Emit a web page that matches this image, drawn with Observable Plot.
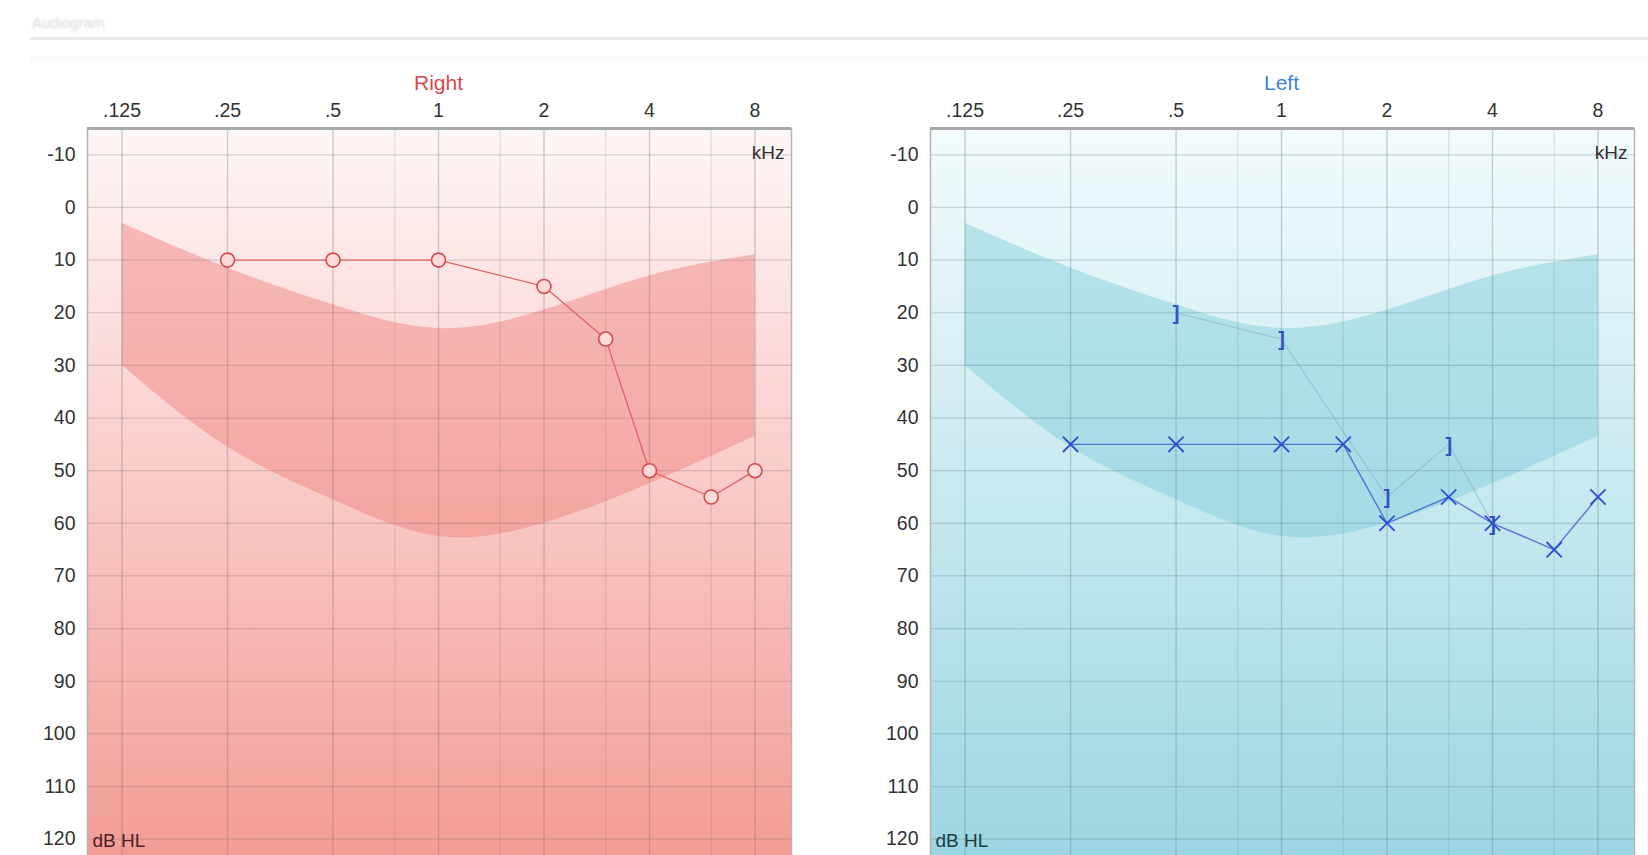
<!DOCTYPE html>
<html>
<head>
<meta charset="utf-8">
<script src="https://cdn.jsdelivr.net/npm/d3@7"></script>
<script src="https://cdn.jsdelivr.net/npm/@observablehq/plot@0.6"></script>
<style>
  html, body { margin: 0; padding: 0; background: #fff; overflow: hidden; width: 1648px; height: 855px; }
  .panel { position: absolute; top: 0; width: 830px; height: 870px; }
  .panel svg { max-width: none !important; }
  #hdr-text { position: absolute; left: 32px; top: 14px; font: 15px "Liberation Sans", Arial, sans-serif; color: #d8d8d8; filter: blur(1.2px); }
  #hdr-line { position: absolute; left: 30px; right: 0; top: 37px; height: 3px; background: #ececec; }
  #hdr-band { position: absolute; left: 30px; right: 0; top: 56px; height: 6px; background: #fbfbfb; }
</style>
</head>
<body>
<div id="hdr-text">Audiogram</div>
<div id="hdr-line"></div>
<div id="hdr-band"></div>
<div id="right" class="panel" style="left:0px"></div>
<div id="left" class="panel" style="left:843px"></div>
<script>
// ---- data ----
const freqTicks = [0.125, 0.25, 0.5, 1, 2, 4, 8];
const freqTickLabels = [".125", ".25", ".5", "1", "2", "4", "8"];
const minorFreqs = [0.75, 1.5, 3, 6];
const dbTicks = [-10, 0, 10, 20, 30, 40, 50, 60, 70, 80, 90, 100, 110, 120];

// normal-range band
const bandFreq  = [0.125, 0.25, 0.5, 1, 2, 4, 8];
const bandUpper = [3, 11.5, 18.5, 23, 19.5, 13, 9];
const bandLower = [30, 45.5, 55.5, 62.5, 60, 52.5, 43.5];

// right ear air conduction (circles)
const rightFreq = [0.25, 0.5, 1, 2, 3, 4, 6, 8];
const rightDb   = [10, 10, 10, 15, 25, 50, 55, 50];

// left ear air conduction (X)
const leftFreq = [0.25, 0.5, 1, 1.5, 2, 3, 4, 6, 8];
const leftDb   = [45, 45, 45, 45, 60, 55, 60, 65, 55];

// left ear masked bone conduction (])
const boneFreq = [0.5, 1, 2, 3, 4];
const boneDb   = [20, 25, 55, 45, 60];

const band = bandFreq.map((f, i) => ({f, lo: bandUpper[i], hi: bandLower[i]}));
const rightPts = rightFreq.map((f, i) => ({f, db: rightDb[i]}));
const leftPts = leftFreq.map((f, i) => ({f, db: leftDb[i]}));
const bonePts = boneFreq.map((f, i) => ({f, db: boneDb[i]}));
const xTickData = freqTicks.map((f, i) => ({f, t: freqTickLabels[i]}));

const FONT = '"Liberation Sans", Arial, sans-serif';

function panel(opts) {
  const {title, titleColor, gradId, gradTop, gradBottom, bandColor, bandOpacity, gridColor, labelColor, marks} = opts;
  const svg = Plot.plot({
    width: 830,
    height: 870,
    marginLeft: 87,
    marginRight: 39,
    marginTop: 128,
    marginBottom: 5,
    style: {fontFamily: FONT, fontSize: "19px", color: "#333", background: "transparent", overflow: "visible"},
    x: {type: "log", domain: [0.0996, 10.17], axis: null},
    y: {domain: [-15, 125], reverse: true, axis: null},
    marks: [
      Plot.frame({fill: `url(#${gradId})`, stroke: "none"}),
      Plot.areaY(band, {x: "f", y1: "lo", y2: "hi", fill: bandColor, fillOpacity: bandOpacity, curve: "natural"}),
      Plot.ruleY(dbTicks, {stroke: gridColor, strokeOpacity: 0.28, strokeWidth: 1.2}),
      Plot.ruleX(minorFreqs, {stroke: gridColor, strokeOpacity: 0.2, strokeWidth: 1.2}),
      Plot.ruleX(freqTicks, {stroke: gridColor, strokeOpacity: 0.32, strokeWidth: 1.4}),
      Plot.frame({stroke: "#b5b5b5", strokeWidth: 1.5}),
      Plot.ruleY([-15], {stroke: "#a8a8a8", strokeWidth: 3}),
      Plot.text(xTickData, {x: "f", text: "t", frameAnchor: "top", dy: -25, fill: "#333", fontSize: 19.5}),
      Plot.axisY({ticks: dbTicks, tickSize: 0, tickPadding: 12, label: null, tickFormat: (d) => String(d), fontSize: 19.5, fill: "#333"}),
      Plot.text([title], {x: [1], frameAnchor: "top", dy: -53, fill: titleColor, fontSize: 21}),
      Plot.text(["kHz"], {frameAnchor: "top-right", dx: -7, dy: 17, fill: "#333", fontSize: 19, textAnchor: "end"}),
      Plot.text([{y: 120, t: "dB HL"}], {y: "y", text: "t", frameAnchor: "left", textAnchor: "start", dx: 5, dy: 2, fill: labelColor, fontSize: 19}),
      ...marks
    ]
  });
  const ns = "http://www.w3.org/2000/svg";
  const defs = document.createElementNS(ns, "defs");
  const lg = document.createElementNS(ns, "linearGradient");
  lg.setAttribute("id", gradId);
  lg.setAttribute("x1", "0"); lg.setAttribute("y1", "0");
  lg.setAttribute("x2", "0"); lg.setAttribute("y2", "1");
  [[0, gradTop], [1, gradBottom]].forEach(([o, c]) => {
    const s = document.createElementNS(ns, "stop");
    s.setAttribute("offset", o);
    s.setAttribute("stop-color", c);
    lg.appendChild(s);
  });
  defs.appendChild(lg);
  svg.insertBefore(defs, svg.firstChild);
  return svg;
}

document.getElementById("right").appendChild(panel({
  title: "Right", titleColor: "#d9484a",
  gradId: "gradR", gradTop: "#fef7f7", gradBottom: "#f39b95",
  bandColor: "#ef7e78", bandOpacity: 0.45, gridColor: "#8a6a6a", labelColor: "#4a2222",
  marks: [
    Plot.line(rightPts, {x: "f", y: "db", stroke: "#e06464", strokeWidth: 1.3}),
    Plot.dot(rightPts, {x: "f", y: "db", r: 7, stroke: "#d64a4a", strokeWidth: 1.6, fill: "#fcdcdb"})
  ]
}));

document.getElementById("left").appendChild(panel({
  title: "Left", titleColor: "#3c86d6",
  gradId: "gradL", gradTop: "#f3fbfd", gradBottom: "#9bd6e2",
  bandColor: "#7ccbda", bandOpacity: 0.45, gridColor: "#5b7d86", labelColor: "#223a40",
  marks: [
    Plot.line(bonePts, {x: "f", y: "db", stroke: "#8fb4cc", strokeWidth: 1.1, strokeOpacity: 0.7}),
    Plot.line(leftPts, {x: "f", y: "db", stroke: "#4464d0", strokeWidth: 1.4, strokeOpacity: 0.85}),
    Plot.text(bonePts, {x: "f", y: "db", text: () => "]", fill: "#3552c4", fontSize: 20, fontWeight: "bold", dy: 1}),
    Plot.dot(leftPts, {x: "f", y: "db", symbol: "times", r: 7, stroke: "#2f4fd0", strokeWidth: 1.8})
  ]
}));
</script>
</body>
</html>
